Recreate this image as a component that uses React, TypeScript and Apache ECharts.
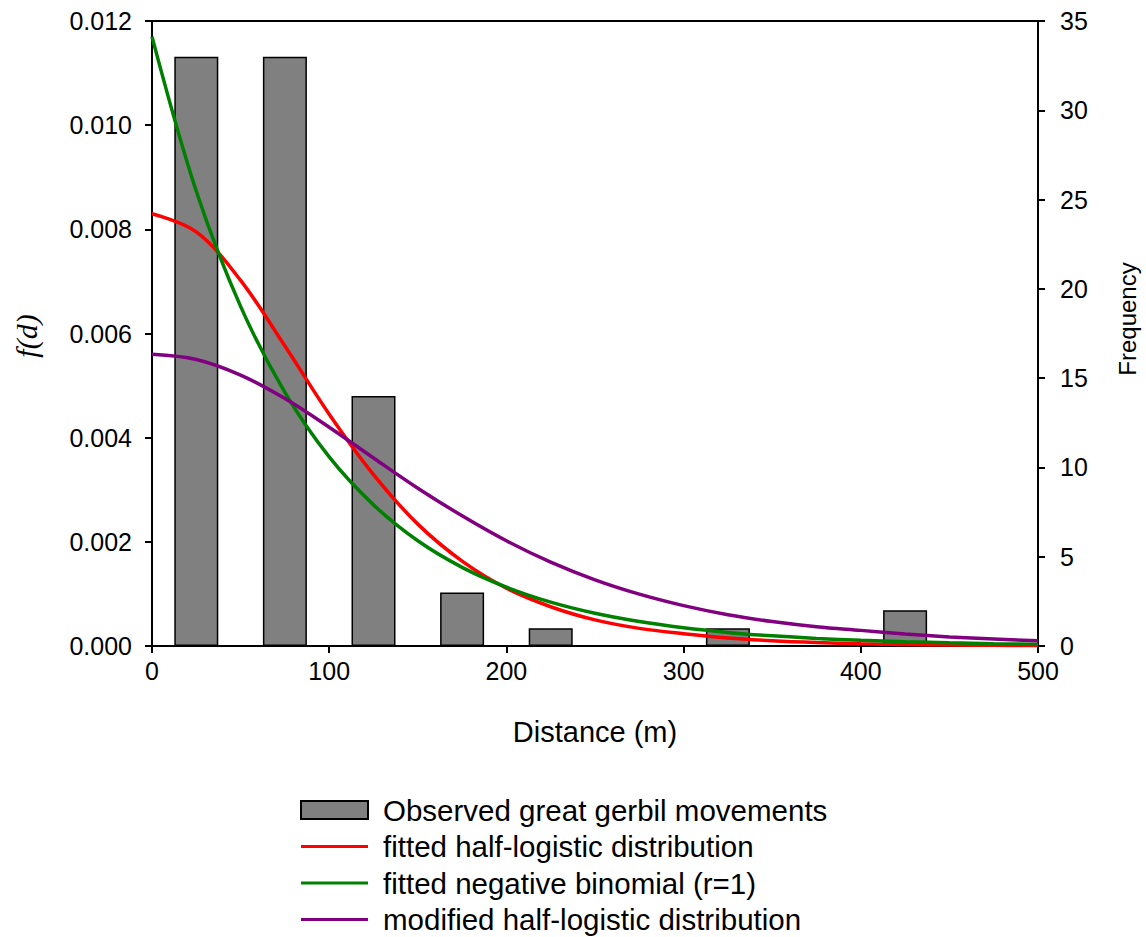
import React, { useEffect, useRef } from 'react';
import * as echarts from 'echarts';

// Observed histogram (bin centres in metres, frequency)
const binCentres = [25, 75, 125, 175, 225, 325, 425];
const frequencies = [33, 33, 14, 3, 1, 1, 2];

// Fitted curves
const distances = [0, 25, 50, 75, 100, 125, 150, 175, 200, 225, 250, 275, 300, 325, 350, 375, 400, 425, 450, 475, 500];
const halfLogistic = [0.0083, 0.00795, 0.00702, 0.00576, 0.00445, 0.00329, 0.00234, 0.00163, 0.00111, 0.000754, 0.000501, 0.000338, 0.000235, 0.000152, 0.0001, 0.000066, 0.000044, 0.0000285, 0.000019, 0.0000124, 0.0000082];
const negBinomial = [0.0117, 0.00873, 0.00652, 0.00487, 0.00363, 0.00271, 0.00202, 0.00151, 0.00113, 0.000842, 0.000628, 0.000469, 0.00035, 0.000261, 0.000195, 0.000145, 0.000109, 0.0000811, 0.0000605, 0.0000452, 0.0000337];
const modifiedHalfLogistic = [0.0056, 0.0055, 0.0052, 0.00475, 0.0042, 0.00361, 0.00303, 0.0025, 0.00202, 0.00161, 0.00127, 0.000995, 0.000775, 0.0006, 0.00047, 0.00037, 0.0003, 0.00023, 0.000175, 0.000135, 0.0001];

const xTicks = { min: 0, max: 500, interval: 100 };
const leftTicks = { min: 0, max: 0.012, interval: 0.002 };
const rightTicks = { min: 0, max: 35, interval: 5 };

const seriesNames = [
  'Observed great gerbil movements',
  'fitted half-logistic distribution',
  'fitted negative binomial (r=1)',
  'modified half-logistic distribution',
];

const FONT = 'Liberation Sans, Arial, sans-serif';
const LINE_ICON = 'path://M0,0H67V3H0Z';

export default function App() {
  const ref = useRef<HTMLDivElement>(null);
  useEffect(() => {
    document.body.style.margin = '0';
    const chart = echarts.init(ref.current!, null, { renderer: 'svg' });
    const pair = (ys: number[]) => distances.map((d, i) => [d, ys[i]]);
    const axisCommon = {
      axisLine: { show: true, lineStyle: { color: '#000', width: 2 } },
      axisTick: { show: true, inside: false, length: 7, lineStyle: { color: '#000', width: 2 } },
      splitLine: { show: false },
    };
    const lineSeries = (name: string, data: number[], color: string) => ({
      name,
      type: 'line',
      yAxisIndex: 0,
      data: pair(data),
      smooth: 0.35,
      symbol: 'none',
      lineStyle: { color, width: 3.5 },
      itemStyle: { color },
    });
    chart.setOption({
      animation: false,
      backgroundColor: '#fff',
      textStyle: { fontFamily: FONT, color: '#000' },
      grid: { left: 152, right: 108, top: 21, bottom: 291, show: true, borderColor: '#000', borderWidth: 2, backgroundColor: 'transparent' },
      xAxis: {
        type: 'value',
        ...xTicks,
        ...axisCommon,
        name: 'Distance (m)',
        nameLocation: 'middle',
        nameGap: 71,
        nameTextStyle: { fontSize: 29, color: '#000', fontFamily: FONT },
        axisLabel: { fontSize: 25, color: '#000', margin: 12, fontFamily: FONT },
      },
      yAxis: [
        {
          type: 'value',
          position: 'left',
          ...leftTicks,
          ...axisCommon,
          axisLabel: { fontSize: 25, color: '#000', margin: 20, fontFamily: FONT, formatter: (v: number) => v.toFixed(3) },
        },
        {
          type: 'value',
          position: 'right',
          ...rightTicks,
          ...axisCommon,
          axisLabel: { fontSize: 25, color: '#000', margin: 22, fontFamily: FONT },
        },
      ],
      graphic: [
        {
          type: 'text',
          x: 26,
          y: 336,
          rotation: Math.PI / 2,
          style: {
            text: 'f(d)',
            fontSize: 30,
            fontStyle: 'italic',
            fontFamily: 'Liberation Serif, Times New Roman, serif',
            fill: '#000',
            align: 'center',
            verticalAlign: 'middle',
          },
        },
        {
          type: 'text',
          x: 1127,
          y: 319,
          rotation: Math.PI / 2,
          style: {
            text: 'Frequency',
            fontSize: 24,
            fontFamily: FONT,
            fill: '#000',
            align: 'center',
            verticalAlign: 'middle',
          },
        },
      ],
      legend: {
        orient: 'vertical',
        left: 295,
        top: 790,
        height: 146,
        itemWidth: 67,
        itemHeight: 18,
        itemGap: 6.5,
        textStyle: { fontSize: 29.5, lineHeight: 30, color: '#000', fontFamily: FONT, padding: [0, 0, 0, 10] },
        data: [
          { name: seriesNames[0], icon: 'rect' },
          { name: seriesNames[1], icon: LINE_ICON },
          { name: seriesNames[2], icon: LINE_ICON },
          { name: seriesNames[3], icon: LINE_ICON },
        ],
      },
      series: [
        {
          name: seriesNames[0],
          type: 'bar',
          xAxisIndex: 0,
          yAxisIndex: 1,
          barWidth: 44,
          data: binCentres.map((c, i) => [c, frequencies[i]]),
          itemStyle: { color: '#808080', borderColor: '#000', borderWidth: 1.5 },
        },
        lineSeries(seriesNames[1], halfLogistic, '#ff0000'),
        lineSeries(seriesNames[2], negBinomial, '#008000'),
        lineSeries(seriesNames[3], modifiedHalfLogistic, '#800080'),
      ],
    });
    return () => chart.dispose();
  }, []);
  return <div ref={ref} style={{ position: 'fixed', left: 0, top: 0, width: 1146, height: 937 }} />;
}
